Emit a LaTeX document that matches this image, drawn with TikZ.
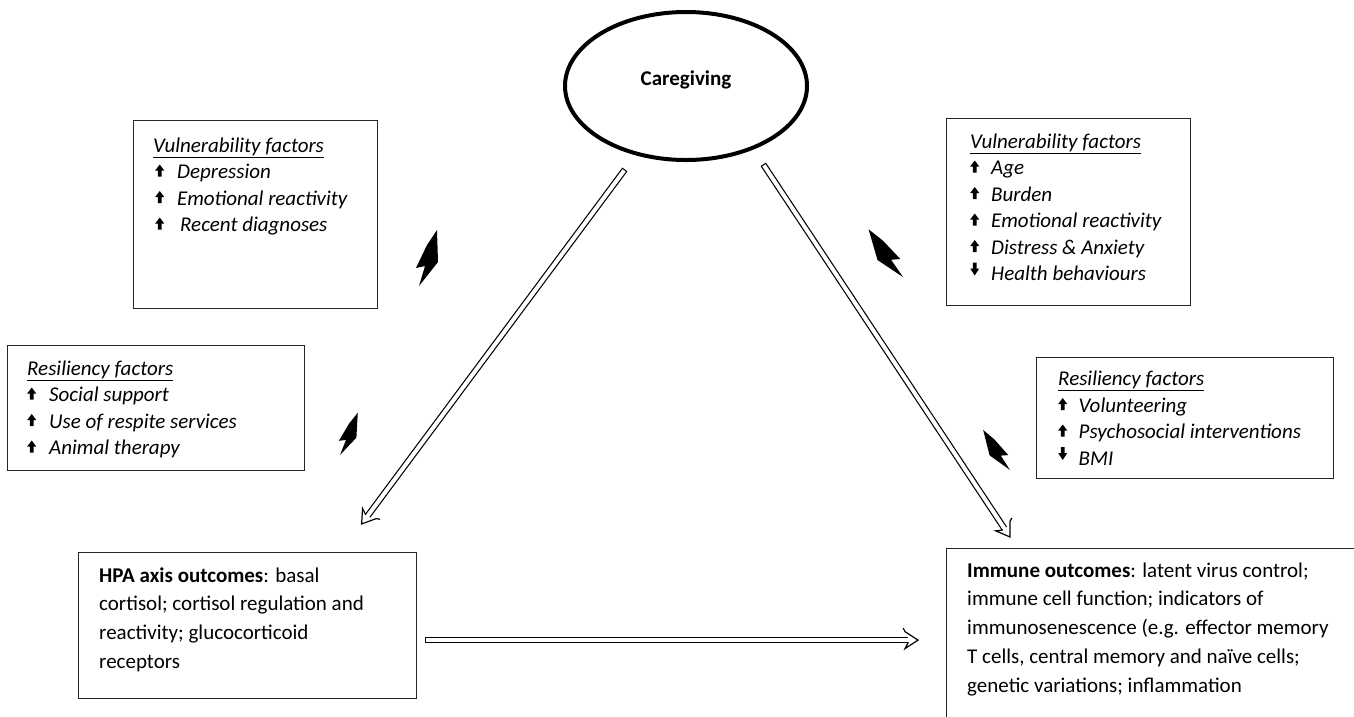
\documentclass[tikz,border=0pt]{standalone}
\usepackage{fontspec}
\setmainfont{Carlito}
\usetikzlibrary{shapes.geometric,decorations.markings}

\newcommand{\uparr}{\tikz[baseline=-2pt,x=1pt,y=1pt]\fill (-1.8,0) -- (1.8,0) -- (1.8,6) -- (4.5,6) -- (0,12) -- (-4.5,6) -- (-1.8,6) -- cycle;}
\newcommand{\downarr}{\tikz[baseline=-5pt,x=1pt,y=1pt]\fill (-1.8,13) -- (1.8,13) -- (1.8,7) -- (4.5,7) -- (0,0) -- (-4.5,7) -- (-1.8,7) -- cycle;}

\begin{document}
\begin{tikzpicture}[x=1pt, y=-1pt,
		box/.style={draw=black!85, line width=1.2pt, anchor=north west, inner sep=0pt},
		list/.style={anchor=base west, align=left, inner sep=0pt, font=\fontsize{21}{26.5}\selectfont},
		outcome/.style={anchor=base west, align=left, inner sep=0pt, font=\fontsize{21}{28.8}\selectfont},
		openhead/.style={decoration={markings, mark=at position 1 with {
			\fill [white] (0,0) -- (-13,8.5) -- (-10,2.6) -- (-10,-2.6) -- (-13,-8.5) -- cycle;
			\draw [line width=1.2pt, line join=miter] (-10,2.6) -- (-13,8.5) -- (0,0) -- (-13,-8.5) -- (-10,-2.6);}}},
		dbl/.style={double, double distance=4pt, line width=1.2pt, line cap=rect, shorten >=10pt, postaction={openhead, decorate}},
		bolt/.pic={\fill (0,0) -- (6,-20) -- (-3,-18) -- (8,-41) -- (18,-56) -- (19,-24) -- cycle;}]
			\useasboundingbox (0,0) rectangle (1354,716);
			\clip (0,0) rectangle (1354,716);
			\draw (686, 86) node [ellipse, draw, line width=4pt, minimum width=242pt, minimum height=148pt, font=\bfseries\fontsize{21}{25}\selectfont] (care) {\raisebox{15pt}{Caregiving}};
			\draw (133, 120) node [box, minimum width=244pt, minimum height=188pt] (vulnl) {};
			\draw (946, 118) node [box, minimum width=244pt, minimum height=187pt] (vulnr) {};
			\draw (7, 345) node [box, minimum width=297pt, minimum height=125pt] (resill) {};
			\draw (1036, 357) node [box, minimum width=297pt, minimum height=121pt] (resilr) {};
			\draw (78, 552) node [box, minimum width=338pt, minimum height=146pt] (hpa) {};
			\draw (946, 548) node [box, minimum width=440pt, minimum height=183pt] (imm) {};
			% multi-line nodes sit on their last baseline
			\draw (153, 231.5) node [list] (vulnltext) {\underline{\textit{Vulnerability factors}}\\
				\hspace{2pt}\uparr\hspace{13pt}\textit{Depression}\\
				\hspace{2pt}\uparr\hspace{13pt}\textit{Emotional reactivity}\\
				\hspace{2pt}\uparr\hspace{16pt}\textit{Recent diagnoses}};
			\draw (970, 280.5) node [list] (vulnrtext) {\underline{\textit{Vulnerability factors}}\\
				\uparr\hspace{12pt}\textit{Age}\\
				\uparr\hspace{12pt}\textit{Burden}\\
				\uparr\hspace{12pt}\textit{Emotional reactivity}\\
				\uparr\hspace{12pt}\textit{Distress \& Anxiety}\\
				\downarr\hspace{12pt}\textit{Health behaviours}};
			\draw (27, 454.5) node [list] (resilltext) {\underline{\textit{Resiliency factors}}\\
				\uparr\hspace{13pt}\textit{Social support}\\
				\uparr\hspace{13pt}\textit{Use of respite services}\\
				\uparr\hspace{13pt}\textit{Animal therapy}};
			\draw (1058, 465) node [list] (resilrtext) {\underline{\textit{Resiliency factors}}\\
				\uparr\hspace{11.5pt}\textit{Volunteering}\\
				\uparr\hspace{11.5pt}\textit{Psychosocial interventions}\\
				\downarr\hspace{11.5pt}\textit{BMI}};
			\draw (99, 668.4) node [outcome] (hpatext) {\textbf{HPA axis outcomes}: basal\\
				cortisol; cortisol regulation and\\
				reactivity; glucocorticoid\\
				receptors};
			\draw (967, 692.2) node [outcome] (immtext) {\textbf{Immune outcomes}: latent virus control;\\
				immune cell function; indicators of\\
				immunosenescence (e.g. effector memory\\
				T cells, central memory and naïve cells;\\
				genetic variations; inflammation};
			\draw [dbl] ([xshift=-63pt, yshift=-10pt]care.south) -- ([xshift=114pt, yshift=28pt]hpa.north);
			\draw [dbl] ([xshift=79pt, yshift=-5pt]care.south) -- ([xshift=64pt, yshift=11pt]imm.north west);
			\draw [dbl] ([xshift=11pt]hpa.east |- imm.west) -- ([xshift=-28pt]imm.west);
			\pic at (419, 286) {bolt};
			\pic [scale=0.78, rotate=-5] at (340, 455) {bolt};
			\pic [rotate=18, xscale=-1] at (903, 277) {bolt};
			\pic [scale=0.82, rotate=16, xscale=-1] at (1010, 470) {bolt};
		\end{tikzpicture}
\end{document}
